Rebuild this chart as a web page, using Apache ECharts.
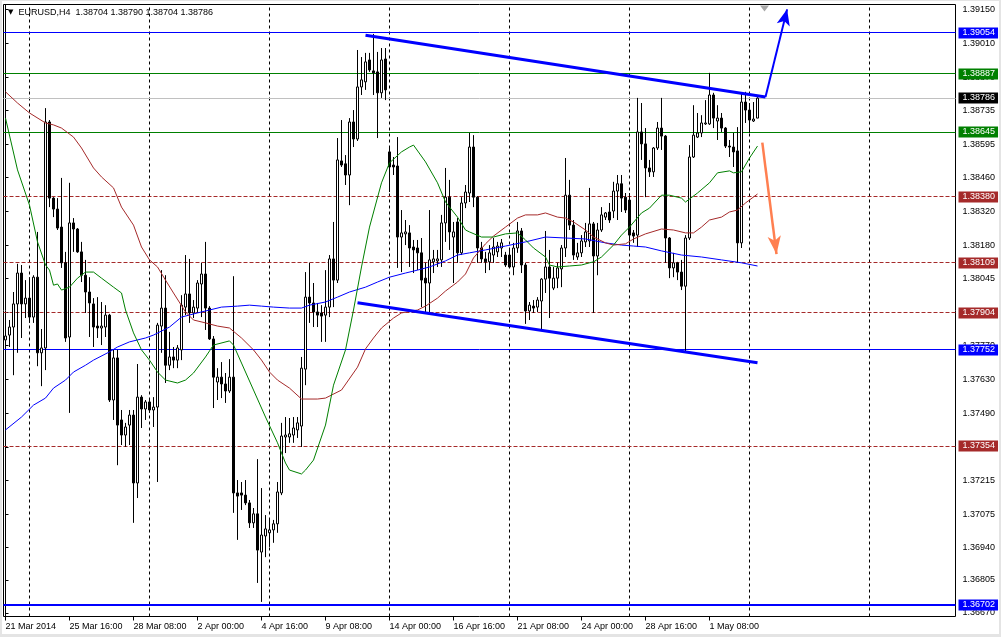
<!DOCTYPE html>
<html><head><meta charset="utf-8">
<script src="https://cdn.jsdelivr.net/npm/echarts@6.0.0/dist/echarts.min.js"></script>
<style>
html,body{margin:0;padding:0;background:#e4e4e4;width:1001px;height:637px;overflow:hidden}
#chart{position:absolute;left:2px;top:1px;width:997px;height:633px;background:#fff}
</style></head><body><div id="chart"></div>
<script>
const symbolName = 'EURUSD';
const timeframe = 'H4';
const firstBarUTC = [2014, 2, 21, 0];   // 21 Mar 2014 00:00, 4-hour bars, weekdays only
const barHours = 4;

// candles: [open, close, low, high]
const candles = [
[1.37792,1.37808,1.37763,1.37845],[1.37812,1.37845,1.37763,1.37874],[1.37845,1.37940,1.37647,1.37989],[1.37940,1.38067,1.37739,1.38105],
[1.38067,1.37940,1.37800,1.38100],[1.37940,1.37964,1.37882,1.38038],[1.37964,1.37886,1.37862,1.38050],[1.37886,1.38050,1.37862,1.38058],
[1.38050,1.37739,1.37684,1.38236],[1.37739,1.37759,1.37602,1.37837],[1.37759,1.38688,1.37668,1.38745],[1.38688,1.38375,1.38338,1.38696],
[1.38375,1.38330,1.38297,1.38379],[1.38330,1.38252,1.38244,1.38375],[1.38256,1.38109,1.38088,1.38458],[1.38109,1.37800,1.37784,1.38154],
[1.37804,1.38273,1.37492,1.38438],[1.38273,1.38248,1.38154,1.38293],[1.38248,1.38154,1.38150,1.38252],[1.38154,1.38058,1.38030,1.38195],
[1.38058,1.37989,1.37903,1.38121],[1.37989,1.37944,1.37804,1.38050],[1.37940,1.37845,1.37763,1.37964],[1.37849,1.37841,1.37800,1.37968],
[1.37841,1.37849,1.37771,1.37948],[1.37845,1.37894,1.37804,1.37935],[1.37894,1.37545,1.37537,1.37899],[1.37545,1.37718,1.37463,1.37751],
[1.37718,1.37442,1.37277,1.37751],[1.37463,1.37401,1.37360,1.37504],[1.37401,1.37434,1.37352,1.37451],[1.37442,1.37483,1.37360,1.37504],
[1.37483,1.37204,1.37040,1.37504],[1.37204,1.37557,1.37142,1.37693],[1.37557,1.37508,1.37430,1.37565],[1.37508,1.37537,1.37463,1.37545],
[1.37537,1.37504,1.37492,1.37545],[1.37504,1.37516,1.37434,1.37557],[1.37516,1.37853,1.37208,1.37862],[1.37849,1.37923,1.37739,1.38079],
[1.37923,1.37688,1.37615,1.38058],[1.37688,1.37722,1.37668,1.37825],[1.37722,1.37709,1.37676,1.37763],[1.37709,1.37759,1.37676,1.37771],
[1.37751,1.37935,1.37709,1.37976],[1.37927,1.37981,1.37894,1.38141],[1.37981,1.37903,1.37862,1.38125],[1.37903,1.37927,1.37882,1.37956],
[1.37923,1.38026,1.37903,1.38038],[1.38022,1.38063,1.37886,1.38109],[1.38063,1.37923,1.37833,1.38195],[1.37923,1.37796,1.37792,1.37931],
[1.37796,1.37639,1.37512,1.37808],[1.37619,1.37639,1.37545,1.37676],[1.37639,1.37611,1.37553,1.37701],[1.37611,1.37582,1.37533,1.37656],
[1.37582,1.37639,1.37574,1.37713],[1.37639,1.37163,1.37081,1.38054],[1.37163,1.37150,1.36970,1.37216],[1.37163,1.37154,1.37093,1.37208],
[1.37154,1.37122,1.37113,1.37216],[1.37122,1.37040,1.37019,1.37134],[1.37040,1.37077,1.37019,1.37101],[1.37077,1.36928,1.36793,1.37302],
[1.36920,1.36990,1.36715,1.37183],[1.36986,1.37015,1.36899,1.37072],[1.36999,1.37011,1.36941,1.37052],[1.37011,1.37036,1.36958,1.37052],
[1.37036,1.37167,1.36999,1.37208],[1.37163,1.37397,1.37154,1.37451],[1.37393,1.37401,1.37327,1.37475],[1.37393,1.37406,1.37369,1.37471],
[1.37401,1.37430,1.37369,1.37475],[1.37422,1.37451,1.37389,1.37475],[1.37438,1.37676,1.37352,1.37722],[1.37672,1.37968,1.37606,1.38071],
[1.37968,1.37944,1.37862,1.38109],[1.37944,1.37907,1.37845,1.38026],[1.37907,1.37894,1.37845,1.37944],[1.37903,1.37890,1.37784,1.37935],
[1.37894,1.37927,1.37784,1.38079],[1.37927,1.38125,1.37886,1.38141],[1.38125,1.38038,1.37927,1.38277],[1.38038,1.38532,1.38026,1.38622],
[1.38528,1.38511,1.38503,1.38696],[1.38516,1.38470,1.38429,1.38552],[1.38470,1.38688,1.38346,1.38704],[1.38688,1.38618,1.38585,1.38737],
[1.38618,1.38832,1.38610,1.38984],[1.38832,1.38861,1.38799,1.38955],[1.38853,1.38935,1.38820,1.38972],[1.38943,1.38902,1.38894,1.38972],
[1.38898,1.38890,1.38799,1.39050],[1.38894,1.38808,1.38622,1.38976],[1.38808,1.38943,1.38787,1.38992],[1.38947,1.38820,1.38778,1.38992],
[1.38565,1.38503,1.38400,1.38581],[1.38511,1.38503,1.38470,1.38544],[1.38507,1.38215,1.38088,1.38626],[1.38215,1.38232,1.38071,1.38326],
[1.38228,1.38236,1.38182,1.38285],[1.38232,1.38170,1.38092,1.38264],[1.38174,1.38162,1.38067,1.38203],[1.38170,1.38150,1.38079,1.38203],
[1.38150,1.38038,1.37927,1.38211],[1.38046,1.38026,1.37903,1.38109],[1.38026,1.38121,1.37907,1.38326],[1.38113,1.38125,1.38067,1.38162],
[1.38117,1.38125,1.38092,1.38162],[1.38121,1.38273,1.38092,1.38306],[1.38273,1.38379,1.38195,1.38499],[1.38379,1.38236,1.38162,1.38450],
[1.38215,1.38236,1.38026,1.38277],[1.38277,1.38150,1.38109,1.38293],[1.38150,1.38355,1.38141,1.38379],[1.38355,1.38400,1.38334,1.38429],
[1.38396,1.38585,1.38359,1.38643],[1.38585,1.38379,1.38338,1.38634],[1.38379,1.38170,1.38109,1.38383],[1.38170,1.38125,1.38109,1.38195],
[1.38125,1.38113,1.38067,1.38154],[1.38113,1.38150,1.38079,1.38182],[1.38141,1.38174,1.38109,1.38211],[1.38154,1.38178,1.38133,1.38195],
[1.38170,1.38191,1.38133,1.38207],[1.38141,1.38100,1.38092,1.38154],[1.38141,1.38092,1.38088,1.38162],[1.38092,1.38170,1.38058,1.38191],
[1.38170,1.38240,1.38150,1.38277],[1.38240,1.38100,1.38067,1.38252],[1.38100,1.37911,1.37858,1.38109],[1.37911,1.37935,1.37874,1.37948],
[1.37931,1.37923,1.37903,1.37956],[1.37927,1.37956,1.37907,1.37968],[1.37952,1.38042,1.37833,1.38046],[1.38042,1.38092,1.37985,1.38240],
[1.38092,1.38046,1.37882,1.38162],[1.38005,1.38046,1.37997,1.38092],[1.38046,1.38088,1.38005,1.38109],[1.38084,1.38170,1.38009,1.38182],
[1.38170,1.38387,1.38133,1.38540],[1.38387,1.38264,1.38244,1.38450],[1.38264,1.38141,1.38121,1.38285],[1.38133,1.38150,1.38121,1.38191],
[1.38150,1.38199,1.38133,1.38223],[1.38195,1.38236,1.38174,1.38273],[1.38199,1.38269,1.38174,1.38417],[1.38269,1.38137,1.37903,1.38277],
[1.38137,1.38244,1.38058,1.38273],[1.38244,1.38306,1.38236,1.38338],[1.38297,1.38314,1.38285,1.38318],[1.38318,1.38285,1.38273,1.38355],
[1.38322,1.38404,1.38293,1.38442],[1.38404,1.38434,1.38285,1.38470],[1.38434,1.38375,1.38318,1.38470],[1.38379,1.38326,1.38314,1.38396],
[1.38367,1.38223,1.38170,1.38396],[1.38232,1.38219,1.38191,1.38244],[1.38223,1.38647,1.38174,1.38787],[1.38647,1.38598,1.38532,1.38766],
[1.38598,1.38499,1.38379,1.38663],[1.38499,1.38483,1.38462,1.38532],[1.38483,1.38581,1.38462,1.38585],[1.38581,1.38663,1.38573,1.38688],
[1.38663,1.38630,1.38573,1.38787],[1.38630,1.38211,1.38109,1.38634],[1.38211,1.38088,1.38046,1.38215],[1.38088,1.38109,1.38050,1.38150],
[1.38109,1.38071,1.38038,1.38113],[1.38071,1.38013,1.37997,1.38121],[1.38013,1.38211,1.37743,1.38223],[1.38211,1.38544,1.38203,1.38593],
[1.38544,1.38634,1.38540,1.38757],[1.38626,1.38643,1.38622,1.38725],[1.38643,1.38684,1.38626,1.38716],[1.38680,1.38684,1.38676,1.38778],
[1.38680,1.38799,1.38676,1.38890],[1.38799,1.38704,1.38663,1.38808],[1.38692,1.38704,1.38614,1.38757],[1.38704,1.38663,1.38647,1.38725],
[1.38663,1.38589,1.38581,1.38667],[1.38589,1.38585,1.38544,1.38614],[1.38585,1.38565,1.38503,1.38643],[1.38569,1.38191,1.38109,1.38667],
[1.38191,1.38770,1.38170,1.38808],[1.38770,1.38737,1.38684,1.38812],[1.38737,1.38696,1.38643,1.38766],[1.38692,1.38700,1.38688,1.38770],
[1.38704,1.38786,1.38704,1.38790]
];

// moving averages: [bar index, price]
const maFast = [[0,1.38704],[3,1.38491],[6,1.38346],[8,1.38195],[10,1.38100],[11,1.38079],[12,1.38017],[13,1.38022],[14,1.37997],[16,1.38009],[18,1.38046],[20,1.38071],[22,1.38071],[24,1.38046],[27,1.38009],[29,1.37985],[30,1.37915],[32,1.37821],[34,1.37751],[36,1.37709],[38,1.37660],[40,1.37627],[43,1.37615],[45,1.37627],[47,1.37656],[50,1.37722],[52,1.37771],[56,1.37788],[57,1.37771],[59,1.37697],[62,1.37586],[65,1.37475],[68,1.37369],[70,1.37286],[71,1.37257],[74,1.37241],[75,1.37257],[77,1.37298],[80,1.37442],[82,1.37606],[85,1.37751],[87,1.37915],[89,1.38092],[91,1.38256],[94,1.38438],[96,1.38520],[99,1.38565],[101,1.38585],[102,1.38593],[105,1.38524],[108,1.38438],[110,1.38359],[113,1.38297],[115,1.38244],[116,1.38236],[119,1.38215],[122,1.38215],[125,1.38228],[128,1.38232],[130,1.38203],[132,1.38170],[135,1.38133],[136,1.38100],[138,1.38092],[141,1.38096],[144,1.38100],[146,1.38109],[147,1.38113],[149,1.38133],[152,1.38182],[154,1.38223],[156,1.38256],[159,1.38314],[161,1.38334],[164,1.38387],[166,1.38387],[169,1.38375],[170,1.38359],[173,1.38396],[176,1.38438],[178,1.38479],[181,1.38487],[182,1.38479],[184,1.38483],[186,1.38540],[188,1.38589]];
const maMid = [[0,1.38812],[3,1.38766],[6,1.38725],[10,1.38684],[12,1.38676],[14,1.38663],[17,1.38626],[19,1.38581],[22,1.38499],[24,1.38462],[27,1.38417],[29,1.38338],[32,1.38264],[34,1.38174],[36,1.38121],[38,1.38092],[40,1.38038],[42,1.37985],[45,1.37907],[47,1.37874],[50,1.37862],[53,1.37849],[56,1.37841],[59,1.37800],[62,1.37751],[64,1.37709],[66,1.37660],[68,1.37627],[71,1.37594],[74,1.37549],[78,1.37549],[80,1.37553],[84,1.37586],[88,1.37680],[90,1.37755],[92,1.37800],[94,1.37841],[97,1.37882],[99,1.37903],[103,1.37915],[105,1.37931],[108,1.37964],[110,1.37993],[113,1.38030],[115,1.38063],[117,1.38129],[120,1.38187],[122,1.38219],[125,1.38256],[128,1.38293],[130,1.38306],[133,1.38306],[135,1.38314],[138,1.38297],[140,1.38293],[142,1.38277],[145,1.38244],[147,1.38215],[150,1.38191],[152,1.38182],[155,1.38187],[157,1.38207],[160,1.38228],[164,1.38248],[167,1.38244],[170,1.38232],[172,1.38232],[174,1.38256],[176,1.38285],[179,1.38297],[181,1.38318],[183,1.38326],[185,1.38355],[188,1.38392]];
const maSlow = [[0,1.37422],[4,1.37475],[7,1.37524],[10,1.37553],[12,1.37594],[15,1.37627],[17,1.37660],[20,1.37688],[22,1.37709],[26,1.37743],[28,1.37763],[31,1.37784],[35,1.37800],[37,1.37812],[41,1.37845],[44,1.37886],[48,1.37903],[51,1.37915],[54,1.37927],[58,1.37931],[61,1.37935],[64,1.37931],[67,1.37927],[71,1.37923],[74,1.37923],[76,1.37935],[80,1.37948],[83,1.37968],[86,1.37989],[90,1.38009],[93,1.38030],[96,1.38050],[100,1.38067],[103,1.38079],[106,1.38092],[110,1.38117],[113,1.38141],[116,1.38150],[120,1.38162],[125,1.38178],[130,1.38195],[135,1.38215],[140,1.38211],[145,1.38207],[150,1.38191],[154,1.38182],[157,1.38178],[160,1.38174],[164,1.38158],[169,1.38141],[174,1.38133],[179,1.38121],[184,1.38109],[188,1.38096]];

// horizontal price levels (right-hand tags)
const levelPrices = [1.39054, 1.38887, 1.38786, 1.38645, 1.38380, 1.38109, 1.37904, 1.37752, 1.37354, 1.36702];
// price scale tick labels
const priceTicks = [1.36670,1.36805,1.36940,1.37075,1.37215,1.37350,1.37490,1.37630,1.37770,1.37905,1.38045,1.38180,1.38320,1.38460,1.38595,1.38735,1.38870,1.39010,1.39150];
// channel lines and arrows: [bar index, price]
const trendUpper = [[90, 1.39045], [190, 1.38791]];
const trendLower = [[88, 1.37945], [188, 1.37698]];
const arrowUp = [[190, 1.38791], [195.4, 1.39151]];
const arrowDown = [[189.2, 1.38603], [192.75, 1.38145]];
const shiftBar = 189.75;
const Y_MIN = 1.36655, Y_MAX = 1.39171;
const SLOTS = 238;

// ---------- build ----------
const FONT = 'Liberation Sans';
const MONTHS = ['Jan','Feb','Mar','Apr','May','Jun','Jul','Aug','Sep','Oct','Nov','Dec'];
const pad2 = n => (n < 10 ? '0' : '') + n;
const times = [];
let t = Date.UTC(firstBarUTC[0], firstBarUTC[1], firstBarUTC[2], firstBarUTC[3]);
while (times.length < SLOTS) {
  const wd = new Date(t).getUTCDay();
  if (wd !== 0 && wd !== 6) times.push(t);
  t += barHours * 3600 * 1000;
}
const categories = times.map((tm, i) => {
  const d = new Date(tm);
  const day = d.getUTCDate() + ' ' + MONTHS[d.getUTCMonth()];
  return i === 0 ? day + ' ' + d.getUTCFullYear() : day + ' ' + pad2(d.getUTCHours()) + ':00';
});
const weekStarts = [];
times.forEach((tm, i) => { const d = new Date(tm); if (d.getUTCDay() === 1 && d.getUTCHours() === 0) weekStarts.push(i); });
const showLabel = (i) => i % 16 === 0 && i < candles.length;

const BLUE = '#0000ff', GREEN = '#008000', BROWN = '#a52a2a', GRAY = '#c0c0c0', ORANGE = '#ff7f50';
const levelLook = [
  {line: BLUE, bg: BLUE}, {line: GREEN, bg: GREEN}, {line: GRAY, bg: '#000'}, {line: GREEN, bg: GREEN},
  {line: BROWN, bg: BROWN, dash: [4, 2]}, {line: BROWN, bg: BROWN, dash: [4, 2]}, {line: BROWN, bg: BROWN, dash: [4, 2]},
  {line: BLUE, bg: BLUE}, {line: BROWN, bg: BROWN, dash: [4, 2]}, {line: BLUE, bg: BLUE, width: 2}
];
const fmt = v => v.toFixed(5);
const last = candles[candles.length - 1];

function renderLevel(params, api) {
  const k = params.dataIndex;
  const p = api.value(1);
  const look = levelLook[k];
  const w = look.width || 1;
  const cs = params.coordSys;
  const raw = api.coord([0, p])[1];
  const y = (w % 2) ? Math.floor(raw) + 0.5 : Math.round(raw);   // crisp pixel row
  return {
    type: 'group',
    children: [
      { type: 'line', shape: { x1: cs.x, y1: y, x2: cs.x + cs.width, y2: y },
        style: { stroke: look.line, lineWidth: w, lineDash: look.dash || null } },
      { type: 'text', x: cs.x + cs.width + 3, y: Math.round(raw),
        style: { text: fmt(p), fill: '#fff', backgroundColor: look.bg, padding: [1, 3, 0, 4],
          fontSize: 9, fontFamily: FONT, lineHeight: 10, align: 'left', verticalAlign: 'middle' } }
    ]
  };
}

const chart = echarts.init(document.getElementById('chart'));
chart.setOption({
  animation: false,
  backgroundColor: '#fff',
  textStyle: { fontFamily: FONT },
  title: {
    left: 6, top: 6, padding: 0,
    text: '{t|\u25BC}  ' + symbolName + ',' + timeframe + '  ' + fmt(last[0]) + ' ' + fmt(last[3]) + ' ' + fmt(last[2]) + ' ' + fmt(last[1]),
    textStyle: { fontSize: 9, fontWeight: 'normal', fontFamily: FONT, color: '#000', lineHeight: 11,
      rich: { t: { fontSize: 7, color: '#000', fontFamily: 'DejaVu Sans' } } }
  },
  grid: { left: 1.5, top: 3.5, width: 952, height: 612, show: true, borderColor: '#000', borderWidth: 1, backgroundColor: 'transparent' },
  xAxis: [
    { type: 'category', data: categories, boundaryGap: true,
      axisLine: { show: false },
      axisTick: { show: true, alignWithLabel: true, interval: showLabel, length: 4, lineStyle: { color: '#000' } },
      axisLabel: { interval: showLabel, align: 'left', margin: 5, fontSize: 9, lineHeight: 10, fontFamily: FONT, color: '#000' },
      splitLine: { show: false } },
    { type: 'value', min: -0.5, max: SLOTS - 0.5, show: false }
  ],
  yAxis: { type: 'value', position: 'right', min: Y_MIN, max: Y_MAX, scale: true,
    axisLine: { show: true, lineStyle: { color: '#000' } },
    axisTick: { show: true, length: 3, customValues: priceTicks, lineStyle: { color: '#000' } },
    axisLabel: { customValues: priceTicks, formatter: v => v.toFixed(5), margin: 7, fontSize: 9, fontFamily: FONT, color: '#000' },
    splitLine: { show: false } },
  series: [
    { type: 'custom', name: 'levels', xAxisIndex: 1, yAxisIndex: 0, z: 1, silent: true, clip: false,
      data: levelPrices.map((p, k) => [k, p]), renderItem: renderLevel },
    { type: 'candlestick', name: symbolName, data: candles, barWidth: 2, z: 2, silent: true,
      itemStyle: { color: '#fff', color0: '#000', borderColor: '#000', borderColor0: '#000', borderWidth: 1 } },
    { type: 'line', name: 'MA slow', xAxisIndex: 1, data: maSlow, showSymbol: false, symbol: 'none', z: 3, silent: true,
      lineStyle: { color: BLUE, width: 1 },
      markLine: { silent: true, symbol: 'none', z: 1, precision: 5, label: { show: false },
        lineStyle: { color: '#000', width: 1, type: [3, 3] },
        data: weekStarts.map(i => ({ xAxis: i })) } },
    { type: 'line', name: 'MA mid', xAxisIndex: 1, data: maMid, showSymbol: false, symbol: 'none', z: 3, silent: true,
      lineStyle: { color: BROWN, width: 1 } },
    { type: 'line', name: 'MA fast', xAxisIndex: 1, data: maFast, showSymbol: false, symbol: 'none', z: 3, silent: true,
      lineStyle: { color: GREEN, width: 1 } },
    { type: 'line', name: 'upper channel', xAxisIndex: 1, data: trendUpper, showSymbol: false, symbol: 'none', z: 4, silent: true,
      lineStyle: { color: BLUE, width: 3 },
      markLine: { silent: true, z: 4, precision: 5, symbol: ['none', 'arrow'], symbolSize: [10, 16], label: { show: false },
        lineStyle: { color: BLUE, width: 2, type: 'solid' },
        data: [[{ coord: arrowUp[0] }, { coord: arrowUp[1] }]] },
      markPoint: { silent: true, symbol: 'triangle', symbolRotate: 180, symbolSize: [9, 6], symbolOffset: [0, 4],
        itemStyle: { color: '#a8a8a8' }, label: { show: false }, data: [{ coord: [shiftBar, Y_MAX] }] } },
    { type: 'line', name: 'lower channel', xAxisIndex: 1, data: trendLower, showSymbol: false, symbol: 'none', z: 4, silent: true,
      lineStyle: { color: BLUE, width: 3 },
      markLine: { silent: true, z: 4, precision: 5, symbol: ['none', 'arrow'], symbolSize: [10, 18], label: { show: false },
        lineStyle: { color: ORANGE, width: 2.5, type: 'solid' },
        data: [[{ coord: arrowDown[0] }, { coord: arrowDown[1] }]] } }
  ]
});
</script></body></html>
